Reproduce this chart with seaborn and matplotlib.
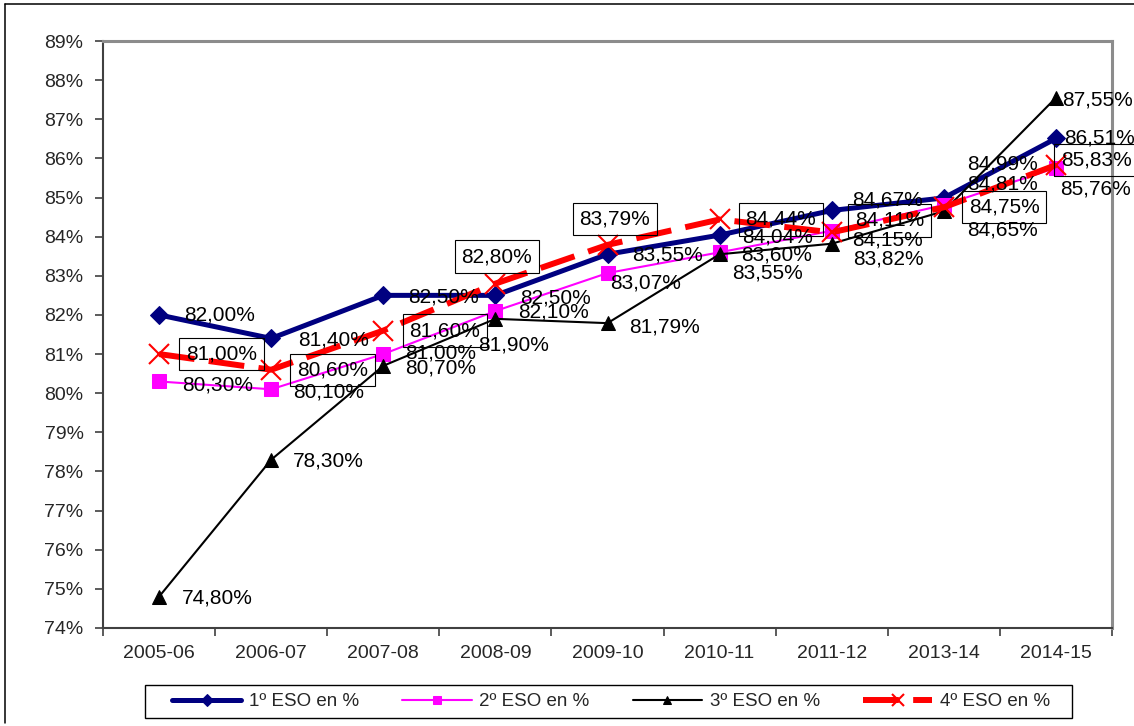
import numpy as np
import pandas as pd
import matplotlib
matplotlib.use("Agg")
import matplotlib.pyplot as plt
from matplotlib.lines import Line2D
from matplotlib.patches import Rectangle
from matplotlib.ticker import FixedLocator
import seaborn as sns

# ---- data -------------------------------------------------------------
cursos = ["2005-06", "2006-07", "2007-08", "2008-09", "2009-10",
          "2010-11", "2011-12", "2013-14", "2014-15"]
eso1 = [82.00, 81.40, 82.50, 82.50, 83.55, 84.04, 84.67, 84.99, 86.51]
eso2 = [80.30, 80.10, 81.00, 82.10, 83.07, 83.60, 84.15, 84.81, 85.76]
eso3 = [74.80, 78.30, 80.70, 81.90, 81.79, 83.55, 83.82, 84.65, 87.55]
eso4 = [81.00, 80.60, 81.60, 82.80, 83.79, 84.44, 84.11, 84.75, 85.83]
nombres = ["1º ESO en %", "2º ESO en %", "3º ESO en %", "4º ESO en %"]
y_ticks = list(range(74, 90))

# ---- styling ------------------------------------------------------------
sns.set_style("white")
plt.rcParams["font.family"] = ["Liberation Sans", "DejaVu Sans"]

estilos = [
    dict(color="#000080", lw=3.6, marker="D", ms=9.5, mec="#000080"),
    dict(color="#FF00FF", lw=1.5, marker="s", ms=10.5, mec="#FF00FF"),
    dict(color="#000000", lw=1.5, marker="^", ms=10.5, mec="#000000"),
    dict(color="#FF0000", lw=4.3, marker="x", ms=14, mew=1.5,
         mec="#FF0000", linestyle=(0, (6, 2.4))),
]

# label offsets in pixels: (dx to left edge of text, dy downwards)
desplaz = [
    [(25, 0), (27, 2), (25, 2), (25, 3), (25, 1), (23, 2), (20, -10), (23, -34), (8, 0)],
    [(23, 4), (22, 3), (22, -1), (23, 1), (3, 10), (22, 3), (20, 9), (23, -21), (4, 21)],
    [(23, 1), (22, 1), (22, 2), (-17, 26), (22, 4), (13, 19), (21, 15), (23, 19), (6, 2)],
    [(27, 0), (26, 0), (26, 0), (-34, -27), (-28, -26), (26, 0), (23, -12), (25, 0), (5, -5)],
]

W, H = 1134, 726
fig = plt.figure(figsize=(W / 100, H / 100), dpi=100)
ax = fig.add_axes([103 / W, 1 - 628 / H, (1112 - 103) / W, (628 - 41) / H])

x = np.arange(len(cursos))
df = pd.DataFrame({"pos": x, "eso1": eso1, "eso2": eso2, "eso3": eso3, "eso4": eso4})
columnas = ["eso1", "eso2", "eso3", "eso4"]

for col, nombre, st in zip(columnas, nombres, estilos):
    sns.lineplot(data=df, x="pos", y=col, ax=ax, label=nombre, sort=False,
                 clip_on=False, **st)

# data labels
for k, col in enumerate(columnas):
    for i, v in enumerate(df[col]):
        dx, dy = desplaz[k][i]
        txt = f"{v:.2f}".replace(".", ",") + "%"
        kw = {}
        if k == 3:
            kw["bbox"] = dict(boxstyle="square,pad=0.32", fc="none",
                              ec="black", lw=0.8)
        ax.annotate(txt, xy=(i, v), xytext=(dx, -dy), textcoords="offset pixels",
                    ha="left", va="center", fontsize=15, color="black",
                    annotation_clip=False, zorder=10, **kw)

# axes
ax.set_xlim(-0.5, len(cursos) - 0.5)
ax.set_ylim(74, 89)
ax.set_xticks(x)
ax.set_xticklabels(cursos)
ax.xaxis.set_minor_locator(FixedLocator(np.arange(-0.5, len(cursos), 1.0)))
ax.set_yticks(y_ticks)
ax.set_yticklabels([f"{t}%" for t in y_ticks])
ax.set_xlabel("")
ax.set_ylabel("")
ax.tick_params(axis="x", which="major", length=0, pad=12, labelsize=14)
ax.tick_params(axis="x", which="minor", length=6, width=1.2, color="#404040",
               direction="out", bottom=True)
ax.tick_params(axis="y", which="major", length=6, width=1.2, color="#404040",
               direction="out", left=True, pad=8, labelsize=14)
for s in ["left", "bottom"]:
    ax.spines[s].set_color("#404040")
    ax.spines[s].set_linewidth(1.5)
for s in ["top", "right"]:
    ax.spines[s].set_color("#8c8c8c")
    ax.spines[s].set_linewidth(2.2)
ax.grid(False)

# legend: entries spread inside a separately drawn frame
handles, labels = ax.get_legend_handles_labels()
ax.get_legend().remove()
leg = fig.legend(handles, labels, loc="center",
                 bbox_to_anchor=(172 / W, 1 - 718 / H, (1050 - 172) / W, 33 / H),
                 mode="expand", ncol=4, frameon=False, handlelength=3.7,
                 handletextpad=0.4, fontsize=13.5, borderaxespad=0,
                 markerscale=0.6, borderpad=0.0)
fig.add_artist(Rectangle((145 / W, 1 - 718 / H), (1072 - 145) / W, 33 / H,
                         transform=fig.transFigure, fill=False,
                         edgecolor="black", lw=1.0))

# outer chart border (top and left edges)
fig.add_artist(Line2D([5 / W, 1.0], [1 - 4 / H, 1 - 4 / H], color="black", lw=1.1,
                      transform=fig.transFigure))
fig.add_artist(Line2D([5 / W, 5 / W], [1 - 4 / H, 1 - 723 / H], color="black", lw=1.1,
                      transform=fig.transFigure))

fig.savefig("out.png", dpi=100, facecolor="white")
